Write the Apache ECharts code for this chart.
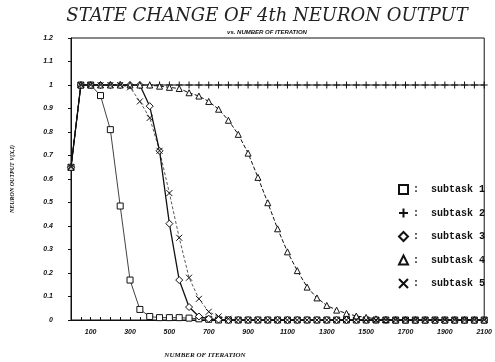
<!DOCTYPE html>
<html>
<head>
<meta charset="utf-8">
<script src="https://cdn.jsdelivr.net/npm/echarts@6/dist/echarts.min.js"></script>
<style>
  html, body { margin: 0; padding: 0; background: #fff; }
  #chart { width: 495px; height: 362px; }
</style>
</head>
<body>
<div id="chart"></div>
<script>
// iterations, one point every 50
var iterations = [0, 50, 100, 150, 200, 250, 300, 350, 400, 450, 500, 550, 600, 650, 700,
  750, 800, 850, 900, 950, 1000, 1050, 1100, 1150, 1200, 1250, 1300, 1350, 1400, 1450,
  1500, 1550, 1600, 1650, 1700, 1750, 1800, 1850, 1900, 1950, 2000, 2050, 2100];

var subtask1 = [0.65, 1, 1, 0.955, 0.81, 0.485, 0.17, 0.045, 0.015, 0.01, 0.01, 0.01, 0.008, 0.005, 0.003,
  0, 0, 0, 0, 0, 0, 0, 0, 0, 0, 0, 0, 0, 0, 0, 0, 0, 0, 0, 0, 0, 0, 0, 0, 0, 0, 0, 0];
var subtask2 = [0.65, 1, 1, 1, 1, 1, 1, 1, 1, 1, 1, 1, 1, 1, 1, 1, 1, 1, 1, 1, 1, 1,
  1, 1, 1, 1, 1, 1, 1, 1, 1, 1, 1, 1, 1, 1, 1, 1, 1, 1, 1, 1, 1];
var subtask3 = [0.65, 1, 1, 1, 1, 1, 1, 1, 0.91, 0.72, 0.41, 0.17, 0.055, 0.015, 0.005, 0.002,
  0, 0, 0, 0, 0, 0, 0, 0, 0, 0, 0, 0, 0, 0, 0, 0, 0, 0, 0, 0, 0, 0, 0, 0, 0, 0, 0];
var subtask4 = [0.65, 1, 1, 1, 1, 1, 1, 1, 1, 0.995, 0.99, 0.985, 0.967, 0.953, 0.93, 0.897,
  0.85, 0.79, 0.71, 0.607, 0.499, 0.388, 0.29, 0.21, 0.14, 0.094, 0.062, 0.042, 0.028, 0.017,
  0.011, 0.005, 0.002, 0, 0, 0, 0, 0, 0, 0, 0, 0, 0];
var subtask5 = [0.65, 1, 1, 1, 1, 1, 0.99, 0.93, 0.86, 0.72, 0.54, 0.35, 0.18, 0.09, 0.035, 0.015,
  0.005, 0, 0, 0, 0, 0, 0, 0, 0, 0, 0, 0, 0, 0, 0, 0, 0, 0, 0, 0, 0, 0, 0, 0, 0, 0, 0];

var names = ['subtask 1', 'subtask 2', 'subtask 3', 'subtask 4', 'subtask 5'];
var values = [subtask1, subtask2, subtask3, subtask4, subtask5];

var plusIcon = 'path://M0,-5L0,5M-5,0L5,0';
var crossIcon = 'path://M-5,-5L5,5M-5,5L5,-5';
var symbols = ['rect', plusIcon, 'diamond', 'triangle', crossIcon];
var sizes = [6, 7, 7, 6, 6];
var lineTypes = ['solid', 'solid', 'solid', [4, 2], [3, 2]];
var lineWidths = [0.8, 1, 1.3, 1, 0.7];

function pairs(arr) {
  return arr.map(function (v, i) { return [iterations[i], v]; });
}

var chart = echarts.init(document.getElementById('chart'));

var series = names.map(function (name, k) {
  return {
    name: name,
    type: 'line',
    data: pairs(values[k]),
    symbol: symbols[k],
    symbolSize: sizes[k],
    showAllSymbol: true,
    itemStyle: { color: '#fff', borderColor: '#111', borderWidth: 1 },
    lineStyle: { color: '#111', width: lineWidths[k], type: lineTypes[k] },
    z: 2 + k,
    animation: false
  };
});

var option = {
  animation: false,
  title: [
    {
      text: 'STATE CHANGE OF 4th NEURON OUTPUT',
      left: 262, top: 2, textAlign: 'center',
      textStyle: { fontFamily: 'DejaVu Serif', fontStyle: 'italic', fontWeight: 'normal', fontSize: 18, color: '#222' }
    },
    {
      text: 'vs. NUMBER OF ITERATION',
      left: 262, top: 24, textAlign: 'center',
      textStyle: { fontFamily: 'Liberation Sans', fontStyle: 'italic', fontWeight: 'bold', fontSize: 6, color: '#111' }
    },
    {
      text: 'NUMBER OF ITERATION',
      left: 200, top: 347, textAlign: 'center',
      textStyle: { fontFamily: 'Liberation Serif', fontStyle: 'italic', fontWeight: 'bold', fontSize: 7, color: '#111' }
    }
  ],
  legend: {
    orient: 'vertical',
    left: 393,
    top: 179,
    itemWidth: 9,
    itemHeight: 9,
    itemGap: 12.5,
    data: names.map(function (n, k) { return { name: n, icon: symbols[k] }; }),
    formatter: function (n) { return ':  ' + n; },
    textStyle: { fontFamily: 'Liberation Mono', fontWeight: 'bold', fontSize: 10, color: '#111' }
  },
  grid: {
    left: 71, right: 9, top: 38, bottom: 42,
    show: true, borderColor: '#111', borderWidth: 1
  },
  xAxis: {
    type: 'value',
    min: 0, max: 2100, interval: 50,
    axisLine: { lineStyle: { color: '#111' } },
    axisTick: { inside: true, length: 3, lineStyle: { color: '#111' } },
    splitLine: { show: false },
    axisLabel: {
      margin: 9,
      fontFamily: 'Liberation Sans', fontStyle: 'italic', fontWeight: 'bold', fontSize: 7, color: '#111',
      formatter: function (v) { return (v % 200 === 100) ? String(v) : ''; }
    }
  },
  yAxis: {
    type: 'value',
    min: 0, max: 1.2, interval: 0.1,
    name: 'NEURON OUTPUT V(X,I)',
    nameLocation: 'middle',
    nameGap: 56,
    nameTextStyle: { fontFamily: 'Liberation Serif', fontStyle: 'italic', fontWeight: 'bold', fontSize: 6, color: '#111' },
    axisLine: { show: true, lineStyle: { color: '#111' } },
    axisTick: { show: true, length: 3, lineStyle: { color: '#111' } },
    splitLine: { show: false },
    axisLabel: {
      margin: 18,
      fontFamily: 'Liberation Sans', fontStyle: 'italic', fontWeight: 'bold', fontSize: 7, color: '#111',
      formatter: function (v) { return String(Math.round(v * 10) / 10); }
    }
  },
  series: series
};

chart.setOption(option);
</script>
</body>
</html>
